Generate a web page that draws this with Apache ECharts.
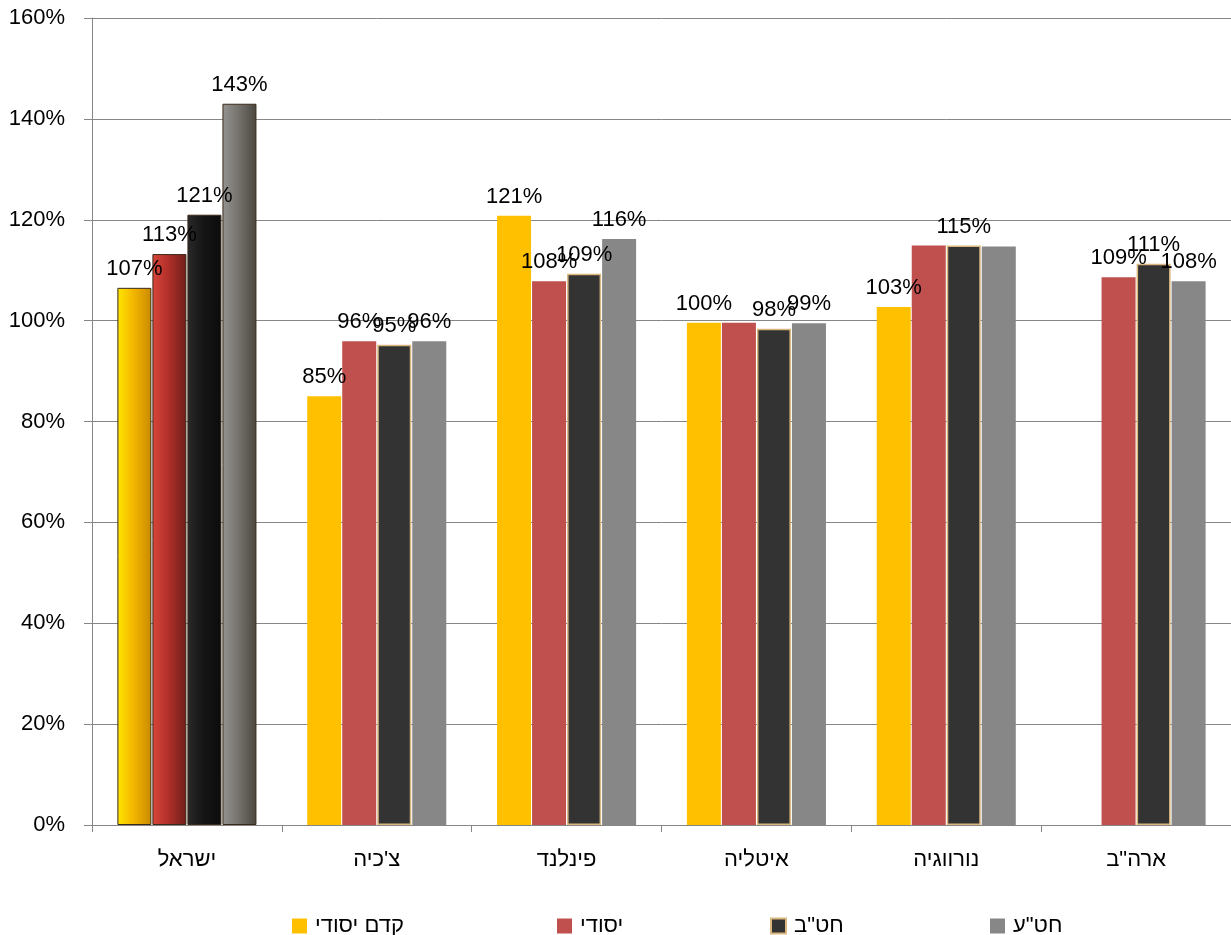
<!DOCTYPE html>
<html><head><meta charset="utf-8">
<script src="https://cdn.jsdelivr.net/npm/echarts@6/dist/echarts.min.js"></script>
<style>html,body{margin:0;padding:0;background:#fff}#c{width:1231px;height:935px}</style>
</head><body><div id="c"></div>
<script>
const categories = ['ישראל', "צ'כיה", 'פינלנד', 'איטליה', 'נורווגיה', 'ארה"ב'];
const seriesNames = ['קדם יסודי', 'יסודי', 'חט"ב', 'חט"ע'];
const preSchool = [106.5, 85.0, 120.8, 99.6, 102.7, null];
const primary = [113.2, 95.9, 107.8, 99.6, 114.9, 108.6];
const juniorHigh = [121.0, 95.2, 109.3, 98.4, 114.9, 111.3];
const highSchool = [143.0, 95.9, 116.2, 99.5, 114.7, 107.8];
const preLabels = ['107%', '85%', '121%', '100%', '103%', ''];
const primLabels = ['113%', '96%', '108%', '', '', '109%'];
const jhLabels = ['121%', '95%', '109%', '98%', '115%', '111%'];
const hsLabels = ['143%', '96%', '116%', '99%', '', '108%'];
const yTicks = [0, 20, 40, 60, 80, 100, 120, 140, 160];

const FONT = '"Liberation Sans", Arial, sans-serif';
const colors = ['#FFC000', '#C0504D', '#333333', '#878787'];
const borders = [null, null, '#D9B77E', null];
const firstGrad = [
  ['#FFE600', '#F5B800', '#C98A00'],
  ['#D8463A', '#B3302A', '#6E1E1A'],
  ['#2a2a2a', '#151515', '#0c0c0c'],
  ['#959390', '#77746f', '#4a463f']
];
const values = [preSchool, primary, juniorHigh, highSchool];
const labels = [preLabels, primLabels, jhLabels, hsLabels];

function grad(c) {
  return new echarts.graphic.LinearGradient(0, 0, 1, 0, [
    {offset: 0, color: c[0]}, {offset: 0.45, color: c[1]}, {offset: 1, color: c[2]}
  ]);
}

const series = values.map((vals, s) => ({
  name: seriesNames[s],
  type: 'bar',
  barWidth: 34,
  barGap: '3%',
  itemStyle: {color: colors[s], borderColor: borders[s] || colors[s], borderWidth: borders[s] ? 1.5 : 0},
  label: {
    show: true, position: 'top', distance: 8, color: '#000', fontSize: 22, fontFamily: FONT,
    formatter: p => labels[s][p.dataIndex]
  },
  data: vals.map((v, i) => i === 0 ? {
    value: v,
    itemStyle: {color: grad(firstGrad[s]), borderColor: '#3a2a1a', borderWidth: 1}
  } : v)
}));

const legendLefts = [287, 552, 765, 985];
const legends = seriesNames.map((n, i) => ({
  data: [{name: n, itemStyle: i === 2 ? {color: '#333333', borderColor: '#D9B77E', borderWidth: 2} : {color: colors[i], borderWidth: 0}}],
  left: legendLefts[i], top: 910,
  icon: 'rect', itemWidth: 15, itemHeight: 15, itemGap: 6,
  textStyle: {fontSize: 22, color: '#000', fontFamily: FONT, padding: [0, 0, 0, 3]}
}));

const chart = echarts.init(document.getElementById('c'), null, {renderer: 'canvas'});
chart.setOption({
  backgroundColor: '#fff',
  animation: false,
  textStyle: {fontFamily: FONT},
  grid: {left: 92, top: 18, width: 1140, height: 807, containLabel: false},
  legend: legends,
  xAxis: {
    type: 'category', data: categories,
    axisLine: {lineStyle: {color: '#868686', width: 1}},
    axisTick: {show: true, length: 7, lineStyle: {color: '#868686'}},
    axisLabel: {color: '#000', fontSize: 22, fontFamily: FONT, margin: 24}
  },
  yAxis: {
    type: 'value', min: yTicks[0], max: yTicks[yTicks.length - 1], interval: 20,
    axisLine: {show: true, lineStyle: {color: '#868686', width: 1}},
    axisTick: {show: true, length: 8, inside: false, lineStyle: {color: '#868686'}},
    splitLine: {show: true, lineStyle: {color: '#868686', width: 1}},
    axisLabel: {color: '#000', fontSize: 22, fontFamily: FONT, margin: 27, formatter: '{value}%'}
  },
  series: series
});
</script></body></html>
